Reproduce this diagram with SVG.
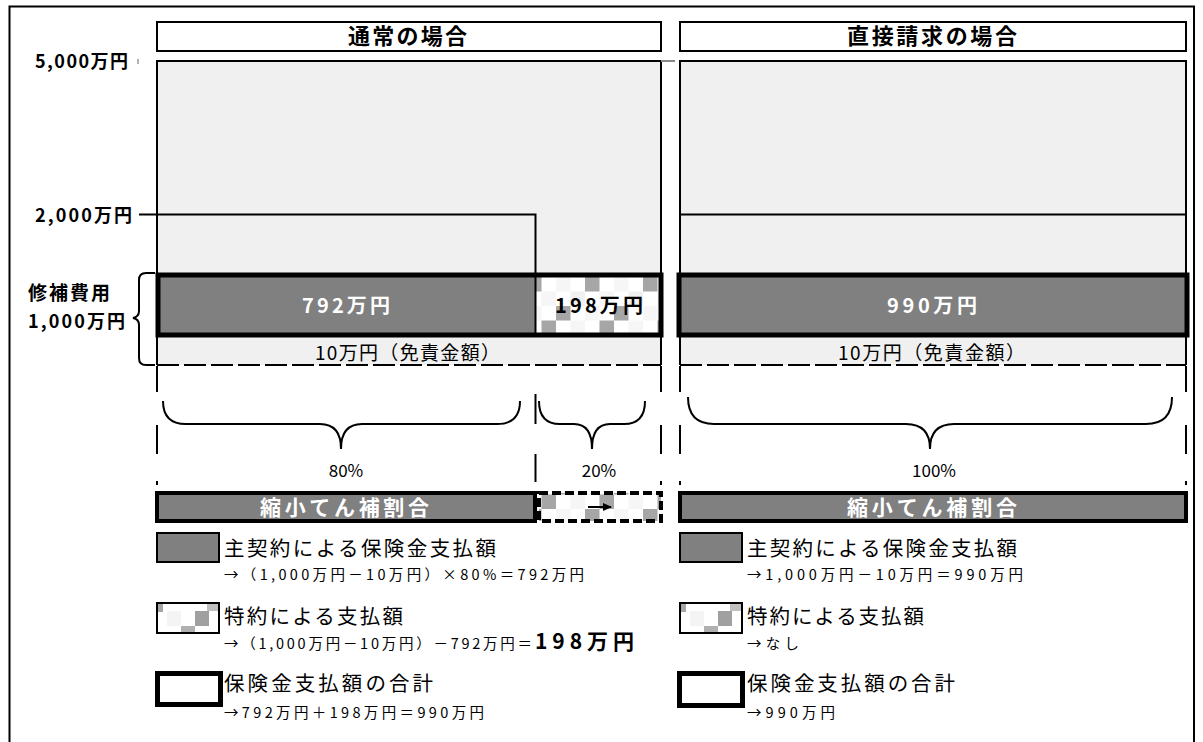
<svg xmlns="http://www.w3.org/2000/svg" width="1203" height="742" viewBox="0 0 1203 742">
<defs>
<style>
text{font-family:"Noto Sans CJK JP","Noto Sans",sans-serif;fill:#000}
.b{font-weight:bold}
.w{fill:#fff}
.panel{fill:#f0f0f0}
.edge{stroke:#000;stroke-width:2;fill:none}
.dash{stroke:#000;stroke-width:2;fill:none;stroke-dasharray:26 33 29 27 4 200}
.base{stroke:#000;stroke-width:2;fill:none;stroke-dasharray:22 5}
.thick{fill:none;stroke:#000;stroke-width:5}
.dark{fill:#808080}
.brace{fill:none;stroke:#000;stroke-width:2}
.leg{fill:none;stroke:#000;stroke-width:2}
</style>
<pattern id="chk" patternUnits="userSpaceOnUse" x="527" y="277" width="58" height="58">
<rect width="58" height="58" fill="#fff"/>
<rect x="0" y="0" width="14.5" height="14.5" fill="#a6a6a6"/>
<rect x="29" y="0" width="14.5" height="14.5" fill="#f6f6f6"/>
<rect x="43.5" y="14.5" width="14.5" height="14.5" fill="#f0f0f0"/>
<rect x="14.5" y="14.5" width="14.5" height="14.5" fill="#f6f6f6"/>
<rect x="29" y="29" width="14.5" height="14.5" fill="#a6a6a6"/>
<rect x="0" y="29" width="14.5" height="14.5" fill="#f6f6f6"/>
<rect x="14.5" y="43.5" width="14.5" height="14.5" fill="#a6a6a6"/>
<rect x="43.5" y="43.5" width="14.5" height="14.5" fill="#f6f6f6"/>
</pattern>
<g id="chkSw">
<rect x="0" y="0" width="62" height="30" fill="#fff"/>
<rect x="0" y="0" width="6" height="9" fill="#a6a6a6"/>
<rect x="50" y="0" width="12" height="8" fill="#c0c0c0"/>
<rect x="10" y="8" width="14" height="15" fill="#f4f4f4"/>
<rect x="38" y="8" width="14" height="15" fill="#a0a0a0"/>
<rect x="24" y="23" width="14" height="7" fill="#b0b0b0"/>
<rect x="0" y="0" width="62" height="30" class="leg"/>
</g>
<marker id="ah" markerWidth="9" markerHeight="8" refX="8" refY="4" orient="auto" markerUnits="userSpaceOnUse">
<path d="M0,0 L9,4 L0,8z" fill="#000"/>
</marker>
</defs>

<rect width="1203" height="742" fill="#fff"/>
<g id="frame"><path d="M9.5,742 V6.5 H1194 V742" class="edge"/></g>

<g id="header-normal">
<rect x="157" y="22" width="504" height="29" fill="#fff" class="edge"/>
<text x="348" y="44" font-size="22" class="b" textLength="119" lengthAdjust="spacing">通常の場合</text>
</g>
<g id="header-direct">
<rect x="680" y="22" width="506" height="29" fill="#fff" class="edge"/>
<text x="847" y="44" font-size="22" class="b" textLength="170" lengthAdjust="spacing">直接請求の場合</text>
</g>

<g id="panel-normal">
<rect x="157" y="61" width="504" height="304" class="panel"/>
<path d="M157,365 V61 H661 V365" class="edge"/>
<line x1="157" y1="365" x2="661" y2="365" class="base"/>
</g>
<g id="panel-direct">
<rect x="680" y="61" width="506" height="304" class="panel"/>
<path d="M680,365 V61 H1186 V365" class="edge"/>
<line x1="680" y1="365" x2="1186" y2="365" class="base"/>
</g>

<g id="axis-labels">
<text x="35" y="68" font-size="18" class="b" textLength="93" lengthAdjust="spacing">5,000万円</text>
<line x1="138" y1="59" x2="138" y2="64" stroke="#666" stroke-width="1"/>
<line x1="661" y1="61" x2="675" y2="61" stroke="#888" stroke-width="2"/>
<text x="35" y="222" font-size="18" class="b" textLength="97" lengthAdjust="spacing">2,000万円</text>
<text x="28" y="300" font-size="19" class="b" textLength="82" lengthAdjust="spacing">修補費用</text>
<text x="28" y="328" font-size="18" class="b" textLength="97" lengthAdjust="spacing">1,000万円</text>
<path d="M155,273 H146 Q139,273 139,280 V311 Q139,317 133,318 Q139,319 139,325 V358 Q139,365 146,365 H155" class="brace"/>
</g>

<g id="connectors">
<path d="M139,214.5 H535.5 V274" class="edge"/>
<line x1="680" y1="214.5" x2="1186" y2="214.5" class="edge"/>
<line x1="157" y1="366" x2="157" y2="490" class="dash"/>
<line x1="661" y1="366" x2="661" y2="490" class="dash"/>
<line x1="680" y1="366" x2="680" y2="490" class="dash"/>
<line x1="1186" y1="366" x2="1186" y2="490" class="dash"/>
<line x1="535.5" y1="394" x2="535.5" y2="424" class="edge"/>
<line x1="535.5" y1="454" x2="535.5" y2="482" class="edge"/>
<path d="M163,401 Q163,424 186,424 L320,424 Q341,424 341,449 Q341,424 362,424 L497,424 Q520,424 520,401" class="brace"/>
<path d="M539,401 Q539,424 560,424 L574,424 Q592,424 592,449 Q592,424 610,424 L624,424 Q645,424 645,401" class="brace"/>
<path d="M688,397 Q688,424 714,424 L906,424 Q930,424 930,449 Q930,424 954,424 L1146,424 Q1172,424 1172,397" class="brace"/>
</g>

<g id="bar-normal">
<rect x="158" y="275" width="377" height="60" class="dark"/>
<rect x="536" y="275" width="125" height="60" fill="url(#chk)"/>
<line x1="535.5" y1="275" x2="535.5" y2="335" stroke="#000" stroke-width="2"/>
<rect x="158" y="275" width="503" height="60" class="thick"/>
<text x="302" y="313" font-size="20" class="b w" textLength="88" lengthAdjust="spacing">792万円</text>
<text x="555" y="313" font-size="20" class="b" textLength="88" lengthAdjust="spacing">198万円</text>
<text x="315" y="360" font-size="19" textLength="185" lengthAdjust="spacing">10万円（免責金額）</text>
</g>
<g id="bar-direct">
<rect x="679" y="275" width="508" height="60" class="dark"/>
<rect x="679" y="275" width="508" height="60" class="thick"/>
<text x="887" y="313" font-size="20" class="b w" textLength="90" lengthAdjust="spacing">990万円</text>
<text x="838" y="360" font-size="19" textLength="187" lengthAdjust="spacing">10万円（免責金額）</text>
</g>

<g id="ratio-normal">
<text x="346" y="477" font-size="17" text-anchor="middle">80%</text>
<text x="599" y="477" font-size="17" text-anchor="middle">20%</text>
<rect x="157" y="493" width="378" height="28" class="dark" stroke="#000" stroke-width="4"/>
<rect x="539" y="493" width="122" height="28" fill="url(#chk)" stroke="#000" stroke-width="4" stroke-dasharray="9 4"/>
<line x1="588" y1="507" x2="611" y2="507" stroke="#000" stroke-width="2" marker-end="url(#ah)"/>
<text x="260" y="515" font-size="21" class="b w" textLength="169" lengthAdjust="spacing">縮小てん補割合</text>
</g>
<g id="ratio-direct">
<text x="934" y="477" font-size="17" text-anchor="middle">100%</text>
<rect x="680" y="493" width="506" height="28" class="dark" stroke="#000" stroke-width="4"/>
<text x="847" y="515" font-size="21" class="b w" textLength="170" lengthAdjust="spacing">縮小てん補割合</text>
</g>

<g id="legend-normal">
<rect x="157" y="533" width="62" height="29" class="dark" stroke="#000" stroke-width="2"/>
<text x="224" y="556" font-size="20.5" textLength="272" lengthAdjust="spacing">主契約による保険金支払額</text>
<text x="224" y="580" font-size="14.5" textLength="360" lengthAdjust="spacing">→（1,000万円－10万円）×80%＝792万円</text>
<use href="#chkSw" x="157" y="603"/>
<text x="224" y="624" font-size="20.5" textLength="179" lengthAdjust="spacing">特約による支払額</text>
<text x="224" y="649" font-size="14.5" textLength="308" lengthAdjust="spacing">→（1,000万円－10万円）－792万円＝</text>
<text x="535" y="649" font-size="21" class="b" textLength="99" lengthAdjust="spacing">198万円</text>
<rect x="157.5" y="673.5" width="63" height="31" fill="#fff" stroke="#000" stroke-width="5"/>
<text x="224" y="691" font-size="20.5" textLength="209" lengthAdjust="spacing">保険金支払額の合計</text>
<text x="224" y="718" font-size="14.5" textLength="260" lengthAdjust="spacing">→792万円＋198万円＝990万円</text>
</g>
<g id="legend-direct">
<rect x="680" y="533" width="62" height="29" class="dark" stroke="#000" stroke-width="2"/>
<text x="747" y="556" font-size="20.5" textLength="270" lengthAdjust="spacing">主契約による保険金支払額</text>
<text x="747" y="580" font-size="14.5" textLength="276" lengthAdjust="spacing">→1,000万円－10万円＝990万円</text>
<use href="#chkSw" x="680" y="603"/>
<text x="747" y="624" font-size="20.5" textLength="177" lengthAdjust="spacing">特約による支払額</text>
<text x="747" y="649" font-size="14.5" textLength="52" lengthAdjust="spacing">→なし</text>
<rect x="679.5" y="673.5" width="63" height="32" fill="#fff" stroke="#000" stroke-width="5"/>
<text x="747" y="691" font-size="20.5" textLength="208" lengthAdjust="spacing">保険金支払額の合計</text>
<text x="747" y="718" font-size="14.5" textLength="88" lengthAdjust="spacing">→990万円</text>
</g>
</svg>
